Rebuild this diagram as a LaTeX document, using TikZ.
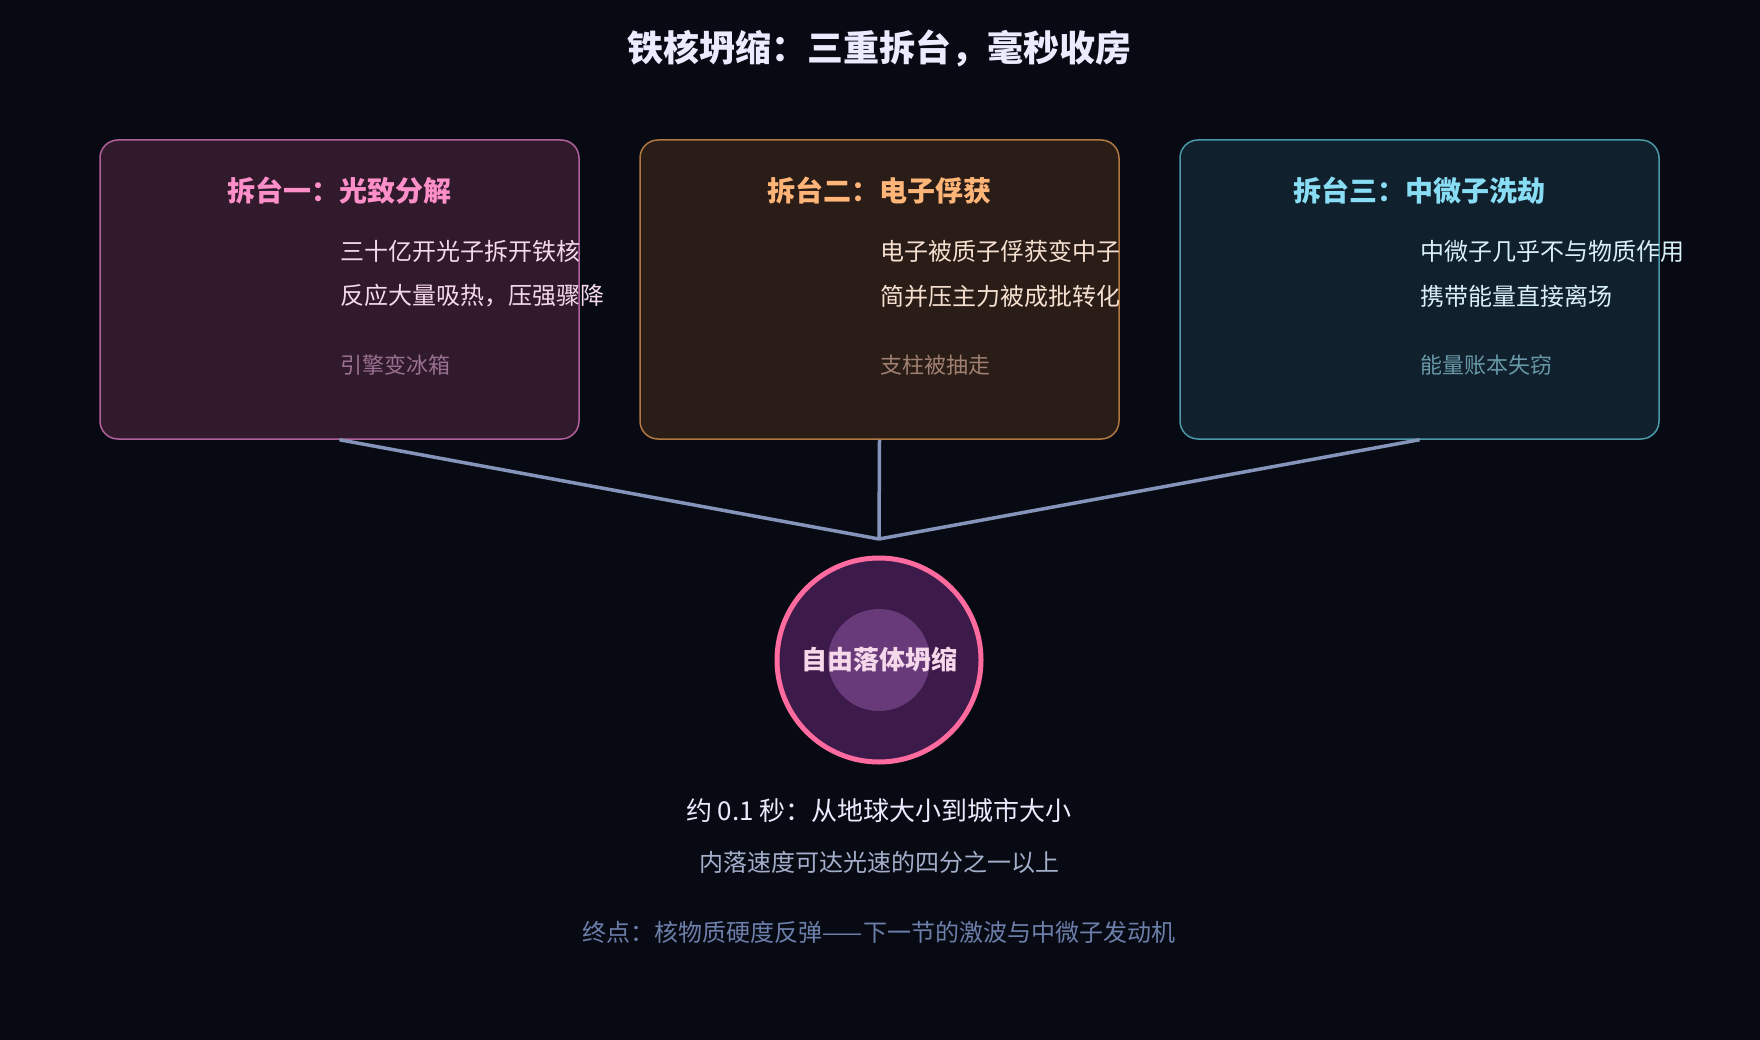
\documentclass[tikz,border=0pt]{standalone}
\usepackage{fontspec}
\setmainfont{Noto Sans CJK SC}
\usetikzlibrary{calc}
\definecolor{bg}{HTML}{070A12}
\definecolor{link}{HTML}{8494BA}
\definecolor{note}{HTML}{6C7EAA}
\definecolor{pinkfill}{HTML}{301A2C}
\definecolor{pinkline}{HTML}{B0609A}
\definecolor{pinktitle}{HTML}{FF8FC8}
\definecolor{pinktext}{HTML}{F5D8EA}
\definecolor{pinksub}{HTML}{9A7090}
\definecolor{orgfill}{HTML}{2A1C16}
\definecolor{orgline}{HTML}{B07840}
\definecolor{orgtitle}{HTML}{FFB478}
\definecolor{orgtext}{HTML}{F5E0D0}
\definecolor{orgsub}{HTML}{A08070}
\definecolor{cyanfill}{HTML}{10202C}
\definecolor{cyanline}{HTML}{4A98A8}
\definecolor{cyantitle}{HTML}{88DCF4}
\definecolor{cyantext}{HTML}{D8F0F8}
\definecolor{cyansub}{HTML}{6898A8}
\definecolor{corefill}{HTML}{3C1A4A}
\definecolor{coreinner}{HTML}{693A7A}
\definecolor{coreline}{HTML}{FF6B9E}
\newcommand{\fsz}[1]{\fontsize{#1}{#1}\selectfont}

\begin{document}
\begin{tikzpicture}[x=1pt, y=-1pt,
		stage/.style={draw, rounded corners=18pt, line width=1.5pt, minimum width=479pt, minimum height=299pt, inner sep=0pt},
		head/.style={inner sep=0pt, font=\fsz{28}\bfseries},
		txt/.style={inner sep=0pt, anchor=west, font=\fsz{24}},
		sub/.style={inner sep=0pt, anchor=west, font=\fsz{22}}]
		\fill[bg] (0,0) rectangle (1760,1040);
		\node[inner sep=0pt, font=\fsz{36}\bfseries, text=white!92!blue] (H) at (879,48) {铁核坍缩：三重拆台，毫秒收房};
		% three stages
		\node[stage, fill=pinkfill, draw=pinkline] (S1) at (339.5,289.5) {};
		\node[stage, fill=orgfill, draw=orgline] (S2) at (879.5,289.5) {};
		\node[stage, fill=cyanfill, draw=cyanline] (S3) at (1419.5,289.5) {};
		\node[head, text=pinktitle] (T1) at (339.5,191) {拆台一：光致分解};
		\node[head, text=orgtitle] (T2) at (879.5,191) {拆台二：电子俘获};
		\node[head, text=cyantitle] (T3) at (1419.5,191) {拆台三：中微子洗劫};
		\node[txt, text=pinktext] (A1) at (340,251) {三十亿开光子拆开铁核};
		\node[txt, text=pinktext] (B1) at (340,296) {反应大量吸热，压强骤降};
		\node[sub, text=pinksub] (C1) at (340,365) {引擎变冰箱};
		\node[txt, text=orgtext] (A2) at (880,251) {电子被质子俘获变中子};
		\node[txt, text=orgtext] (B2) at (880,296) {简并压主力被成批转化};
		\node[sub, text=orgsub] (C2) at (880,365) {支柱被抽走};
		\node[txt, text=cyantext] (A3) at (1420,251) {中微子几乎不与物质作用};
		\node[txt, text=cyantext] (B3) at (1420,296) {携带能量直接离场};
		\node[sub, text=cyansub] (C3) at (1420,365) {能量账本失窃};
		% merge into the core
		\coordinate (J) at (879,539);
		\path[draw=link, line width=3.5pt] (S1.south) edge (J)
			(S2.south) edge (J)
			(S3.south) edge (J);
		\node[circle, fill=corefill, draw=coreline, line width=5pt, minimum size=204pt] (K) at (879,660) {};
		\node[circle, fill=coreinner, minimum size=102pt, inner sep=0pt] (Ki) at (K) {};
		\node[inner sep=0pt, font=\fsz{26}\bfseries, text=pinktext] (KL) at (K) {自由落体坍缩};
		\node[inner sep=0pt, font=\fsz{26}, text=white!92!blue] (D1) at (879,811) {约 0.1 秒：从地球大小到城市大小};
		\node[inner sep=0pt, font=\fsz{24}, text=link!75!white] (D2) at (879,862) {内落速度可达光速的四分之一以上};
		\node[inner sep=0pt, font=\fsz{24}, text=note] (E) at (879,932) {终点：核物质硬度反弹——下一节的激波与中微子发动机};
	\end{tikzpicture}
\end{document}
